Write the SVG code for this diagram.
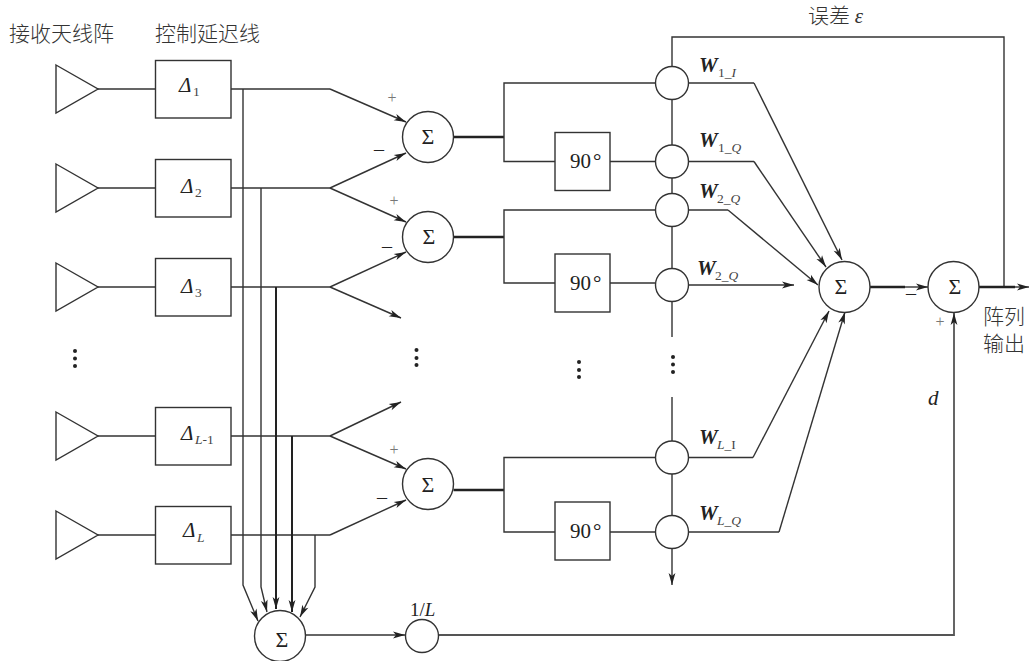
<svg xmlns="http://www.w3.org/2000/svg" width="1029" height="661" viewBox="0 0 1029 661">
<style>
text{font-family:"Liberation Serif","Noto Sans CJK SC",serif;fill:#222}
.cjk{font-family:"Noto Sans CJK SC","Liberation Serif",sans-serif;font-size:21px;font-weight:300;fill:#333}
.s{fill:#fff;stroke:#333;stroke-width:1.4}
.l{fill:none;stroke:#333;stroke-width:1.4}
.a{marker-end:url(#arr)}
.t{fill:none;stroke:#222;stroke-width:2.4}
.d{font-size:21px;font-style:italic}
.sub{font-size:13.5px;font-style:italic;fill:#444}
.sg{font-size:22px;text-anchor:middle}
.w{font-size:21px;font-style:italic;font-weight:bold}
.n{font-size:21px}
.p{font-size:16px;fill:#777;text-anchor:middle}
.m{font-size:20px;text-anchor:middle}
.dot{fill:#222}
</style>
<defs>
<marker id="arr" markerUnits="userSpaceOnUse" markerWidth="14" markerHeight="10" refX="12" refY="5" orient="auto" overflow="visible">
<path d="M0 1.600 L12 5 L0 8.400 L3 5 Z" fill="#222"/>
</marker>
</defs>
<g id="connectors">
<path class="l" d="M98 89H155.500M98 188H155.500M98 287H155.500M98 436H155.500M98 535H155.500"/>
<path class="l" d="M231 89H330"/><path class="l a" d="M330 89L406 122"/>
<path class="l" d="M231 188H330"/><path class="l a" d="M330 188L406 153"/><path class="l a" d="M330 188L406 222"/>
<path class="l" d="M231 287H330"/><path class="l a" d="M330 287L406 252"/><path class="l a" d="M330 287L401 318"/>
<path class="l" d="M231 436H330"/><path class="l a" d="M330 436L401 402"/><path class="l a" d="M330 436L406 469"/>
<path class="l" d="M231 535H330"/><path class="l a" d="M330 535L406 500"/>
<path class="l a" d="M243 89V585L258 621"/>
<path class="l a" d="M261 188V587L267 612"/>
<path class="t a" d="M276 287V609" style="stroke-width:2"/>
<path class="t a" d="M292 436V612" style="stroke-width:2"/>
<path class="l a" d="M315 535V587L300 617"/>
<path class="l a" d="M306 635H405"/>
<path class="l a" d="M438 635H954V313" style="stroke:#555;stroke-width:1.800"/>
<path class="t" d="M453.500 137H504M453.500 237H504M453.500 490H504"/>
<path class="l" d="M655.500 83H504V161.500H555M655.500 210H504V283H555M655.500 457.500H504V532H555"/>
<path class="l" d="M610 161.500H655.500M610 283H655.500M610 532H655.500"/>
<path class="l" d="M672 66V37H1004V287"/>
<path class="l" d="M672 99V145M672 178V194M672 226V269M672 301V337M672 397V441M672 474V516"/>
<path class="l a" d="M672 548V585"/>
<path class="l" d="M688.500 83H754"/><path class="l a" d="M754 83L842 260"/>
<path class="l" d="M688.500 161.500H754"/><path class="l a" d="M754 161.500L826 267"/>
<path class="l" d="M688.500 210H728"/><path class="l a" d="M728 210L818 285"/>
<path class="l a" d="M688.500 285H794"/>
<path class="l" d="M688.500 457.500H753"/><path class="l a" d="M753 457.500L829 311"/>
<path class="l" d="M688.500 532H779"/><path class="l a" d="M779 532L845 312"/>
<path class="t" d="M870 287H905"/><path class="l a" d="M905 287H928"/>
<path class="t" d="M979 287H1015"/><path class="l a" d="M1015 287H1029"/>
</g>
<g id="antennas">
<path class="s" d="M56 65L98 89L56 113Z"/>
<path class="s" d="M56 164L98 188L56 212Z"/>
<path class="s" d="M56 263L98 287L56 311Z"/>
<path class="s" d="M56 412L98 436L56 460Z"/>
<path class="s" d="M56 511L98 535L56 559Z"/>
</g>
<g id="delay1"><rect class="s" x="155.500" y="60.500" width="75.500" height="57.500"/><text class="d" x="179" y="92">Δ</text><text class="sub" x="193" y="96" style="font-style:normal">1</text></g>
<g id="delay2"><rect class="s" x="155.500" y="159.500" width="75.500" height="57.500"/><text class="d" x="181" y="193">Δ</text><text class="sub" x="195" y="197" style="font-style:normal">2</text></g>
<g id="delay3"><rect class="s" x="155.500" y="258.500" width="75.500" height="57.500"/><text class="d" x="181" y="293">Δ</text><text class="sub" x="195" y="297" style="font-style:normal">3</text></g>
<g id="delayL1"><rect class="s" x="155.500" y="407.500" width="75.500" height="57.500"/><text class="d" x="181" y="440">Δ</text><text class="sub" x="195" y="444">L<tspan style="font-style:normal">-1</tspan></text></g>
<g id="delayL"><rect class="s" x="155.500" y="506.500" width="75.500" height="57.500"/><text class="d" x="183" y="537">Δ</text><text class="sub" x="197" y="542">L</text></g>
<g id="sum1"><circle class="s" cx="428" cy="137" r="25.500"/><text class="sg" x="428" y="144">Σ</text></g>
<g id="sum2"><circle class="s" cx="428" cy="237" r="25.500"/><text class="sg" x="429" y="244">Σ</text></g>
<g id="sum3"><circle class="s" cx="428" cy="484" r="25.500"/><text class="sg" x="428" y="492">Σ</text></g>
<g id="sumBottom"><circle class="s" cx="280" cy="636" r="25.500"/><text class="sg" x="282" y="647">Σ</text></g>
<g id="scale"><circle class="s" cx="422" cy="636" r="16.500"/><text x="410" y="616" style="font-size:19px">1/<tspan font-style="italic">L</tspan></text></g>
<g id="phase1"><rect class="s" x="555" y="132.500" width="55" height="58"/><text class="n" x="570" y="168">90<tspan dx="2">°</tspan></text></g>
<g id="phase2"><rect class="s" x="555" y="254" width="55" height="58"/><text class="n" x="570" y="290">90<tspan dx="2">°</tspan></text></g>
<g id="phase3"><rect class="s" x="555" y="502" width="55" height="58"/><text class="n" x="570" y="538">90<tspan dx="2">°</tspan></text></g>
<g id="w1i"><circle class="s" cx="672" cy="83" r="16.500"/><text class="w" x="699" y="72">W</text><text class="sub" x="718" y="77"><tspan style="font-style:normal">1_</tspan>I</text></g>
<g id="w1q"><circle class="s" cx="672" cy="161.500" r="16.500"/><text class="w" x="699" y="147">W</text><text class="sub" x="718" y="152"><tspan style="font-style:normal">1_</tspan>Q</text></g>
<g id="w2i"><circle class="s" cx="672" cy="210" r="16.500"/><text class="w" x="699" y="198">W</text><text class="sub" x="717" y="203"><tspan style="font-style:normal">2_</tspan>Q</text></g>
<g id="w2q"><circle class="s" cx="672" cy="285" r="16.500"/><text class="w" x="697" y="275">W</text><text class="sub" x="715" y="280"><tspan style="font-style:normal">2_</tspan>Q</text></g>
<g id="wli"><circle class="s" cx="672" cy="457.500" r="16.500"/><text class="w" x="699" y="444">W</text><text class="sub" x="717" y="449">L<tspan style="font-style:normal">_I</tspan></text></g>
<g id="wlq"><circle class="s" cx="672" cy="532" r="16.500"/><text class="w" x="699" y="520">W</text><text class="sub" x="717" y="525">L_Q</text></g>
<g id="sumW"><circle class="s" cx="844.500" cy="287" r="25.500"/><text class="sg" x="841" y="294">Σ</text></g>
<g id="sumOut"><circle class="s" cx="953.500" cy="287" r="25.500"/><text class="sg" x="955" y="294">Σ</text></g>
<g id="labels">
<text class="cjk" x="9" y="41">接收天线阵</text>
<text class="cjk" x="155" y="41">控制延迟线</text>
<text class="cjk" x="808" y="23">误差 <tspan font-family="Liberation Serif" font-style="italic">ε</tspan></text>
<text class="cjk" x="983" y="324">阵列</text>
<text class="cjk" x="983" y="351">输出</text>
<text class="d" x="928" y="405">d</text>
<text class="p" x="392" y="103">+</text><text class="m" x="379" y="156">–</text>
<text class="p" x="394" y="206">+</text><text class="m" x="387" y="253">–</text>
<text class="p" x="394" y="455">+</text><text class="m" x="382" y="504">–</text>
<text class="m" x="911" y="300">–</text><text class="p" x="940" y="327">+</text>
</g>
<g id="ellipsis">
<circle class="dot" cx="75" cy="351" r="2"/><circle class="dot" cx="75" cy="358.500" r="2"/><circle class="dot" cx="75" cy="366" r="2"/>
<circle class="dot" cx="416.500" cy="350" r="2"/><circle class="dot" cx="416.500" cy="358" r="2"/><circle class="dot" cx="416.500" cy="365" r="2"/>
<circle class="dot" cx="579" cy="362" r="2"/><circle class="dot" cx="579" cy="370" r="2"/><circle class="dot" cx="579" cy="377" r="2"/>
<circle class="dot" cx="673" cy="357" r="2"/><circle class="dot" cx="673" cy="364.500" r="2"/><circle class="dot" cx="673" cy="372" r="2"/>
</g>
</svg>
